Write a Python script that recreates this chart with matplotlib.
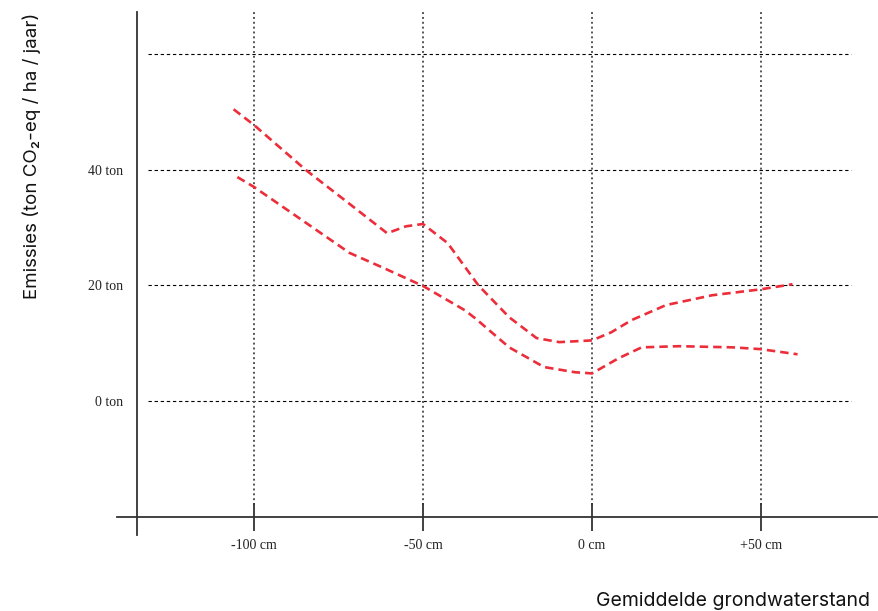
import matplotlib.pyplot as plt

# grondwaterstand (cm) en emissies (ton CO2-eq / ha / jaar)
upper_x = [-106, -100, -84.6, -72, -60.6, -55, -50, -42.7, -33.6, -24.5, -16.4, -9.7, 0,
           5.7, 11.7, 21.9, 35.6, 49.7, 59.3]
upper_y = [50.4, 47.7, 39.9, 34.2, 29.0, 30.2, 30.6, 27.3, 20.0, 14.5, 10.9, 10.2, 10.5,
           11.9, 14.0, 16.6, 18.3, 19.3, 20.2]
lower_x = [-104.9, -100, -71.7, -62, -50, -37.6, -34.5, -24.5, -14.2, -5, 0, 7.8, 14.7,
           25.7, 41.6, 49.7, 60.8]
lower_y = [38.7, 37.0, 25.6, 23.1, 19.9, 15.7, 14.3, 9.3, 5.9, 5.0, 4.8, 7.4, 9.3,
           9.5, 9.3, 9.0, 8.1]

x_ticks = [-100, -50, 0, 50]
x_labels = ["-100 cm", "-50 cm", "0 cm", "+50 cm"]
y_ticks = [0, 20, 40]
y_labels = ["0 ton", "20 ton", "40 ton"]
grid_y = [0, 20, 40, 60]

red = "#ec2d3a"
sans = ["Inter", "DejaVu Sans"]
serif = ["Liberation Serif", "DejaVu Serif"]

fig = plt.figure(figsize=(8.79, 6.11), dpi=100)
ax = fig.add_axes([117 / 879, 1 - 535 / 611, 760 / 879, 523 / 611])
ax.set_xlim(-140.5, 84.3)
ax.set_ylim(-23.1, 67.2)

# rasterlijnen
for g in grid_y:
    ax.plot([-131.4, 76.6], [g, g], color="black", lw=0.8, ls=(0, (3, 2.5)), zorder=1)
for t in x_ticks:
    ax.plot([t, t], [-18, 67.2], color="#555555", lw=1.4, ls=(0, (1, 1.5)), zorder=1)

# de twee curves
ax.plot(upper_x, upper_y, color=red, lw=1.9, dashes=(3.2, 1.9), zorder=3)
ax.plot(lower_x, lower_y, color=red, lw=1.9, dashes=(3.2, 1.9), zorder=3)

# assen
for s in ["top", "right"]:
    ax.spines[s].set_visible(False)
ax.spines["left"].set_position(("data", -134.6))
ax.spines["bottom"].set_position(("data", -20))
for s in ["left", "bottom"]:
    ax.spines[s].set_color("#333333")
    ax.spines[s].set_linewidth(1.3)

ax.set_xticks(x_ticks)
ax.set_xticklabels(x_labels, fontfamily=serif, fontsize=10, color="#222222")
ax.tick_params(axis="x", direction="inout", length=20, width=1.3, color="#333333", pad=6)
ax.set_yticks(y_ticks)
ax.set_yticklabels(y_labels, fontfamily=serif, fontsize=10, color="#222222")
ax.tick_params(axis="y", length=0, pad=10)

fig.text(32 / 879, 1 - 156 / 611, "Emissies (ton CO\u2082-eq / ha / jaar)", rotation=90,
         ha="center", va="center", fontsize=13.5, family=sans, color="#111111")
fig.text(870 / 879, 1 - 601 / 611, "Gemiddelde grondwaterstand", ha="right", va="center",
         fontsize=14, family=sans, color="#111111")

fig.savefig("out.png", dpi=100)
